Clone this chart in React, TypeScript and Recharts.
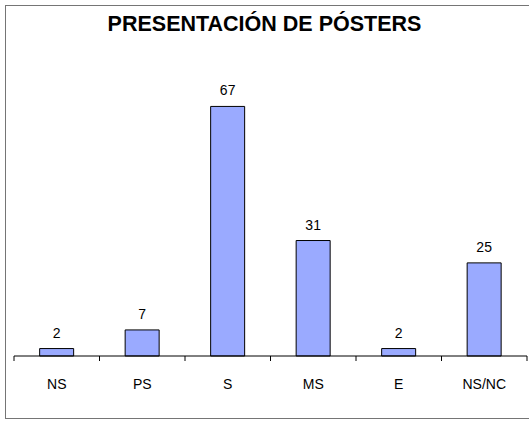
import { BarChart, Bar, XAxis, YAxis, LabelList } from 'recharts';

const categories = ['NS', 'PS', 'S', 'MS', 'E', 'NS/NC'];
const values = [2, 7, 67, 31, 2, 25];

const data = categories.map((name, i) => ({ name, value: values[i] }));

const FONT = '"Liberation Sans", Arial, sans-serif';

// label plus tick marks at the band edges (Excel style)
const CategoryTick = (props: any) => {
  const { x, y, payload, index, visibleTicksCount } = props;
  const half = payload && payload.offset ? payload.offset : 0;
  const last = index === (visibleTicksCount ?? categories.length) - 1;
  return (
    <g>
      <line x1={x - half} x2={x - half} y1={y} y2={y + 5} stroke="#000" />
      {last && <line x1={x + half} x2={x + half} y1={y} y2={y + 5} stroke="#000" />}
      <text x={x} y={y + 33} textAnchor="middle" fill="#000" fontSize={14} fontFamily={FONT}>
        {payload.value}
      </text>
    </g>
  );
};

export default function App() {
  return (
    <div style={{ position: 'absolute', left: 0, top: 0, width: 529, height: 421, background: '#fff', fontFamily: FONT, overflow: 'hidden' }}>
      <div
        style={{
          position: 'absolute',
          left: 5,
          top: 5,
          width: 540,
          height: 412,
          border: '1px solid #757575',
        }}
      />
      <div
        style={{
          position: 'absolute',
          left: 0,
          top: 14,
          width: 529,
          textAlign: 'center',
          fontSize: 21.5,
          lineHeight: 1,
          fontWeight: 'bold',
          color: '#000',
        }}
      >
        PRESENTACIÓN DE PÓSTERS
      </div>
      <div style={{ position: 'absolute', left: 0, top: 0 }}>
        <BarChart
          width={529}
          height={421}
          data={data}
          margin={{ top: 58, right: 2, left: 14, bottom: 35 }}
          barCategoryGap="30%"
        >
          <XAxis
            dataKey="name"
            height={30}
            axisLine={{ stroke: '#000' }}
            tickLine={false}
            tickSize={0}
            tickMargin={0}
            tick={CategoryTick}
            interval={0}
          />
          <YAxis hide domain={[0, 80]} />
          <Bar
            dataKey="value"
            fill="#9aaaff"
            stroke="#000"
            strokeWidth={1}
            isAnimationActive={false}
          >
            <LabelList dataKey="value" position="top" offset={11} fill="#000" fontSize={14} fontFamily={FONT} />
          </Bar>
        </BarChart>
      </div>
    </div>
  );
}
